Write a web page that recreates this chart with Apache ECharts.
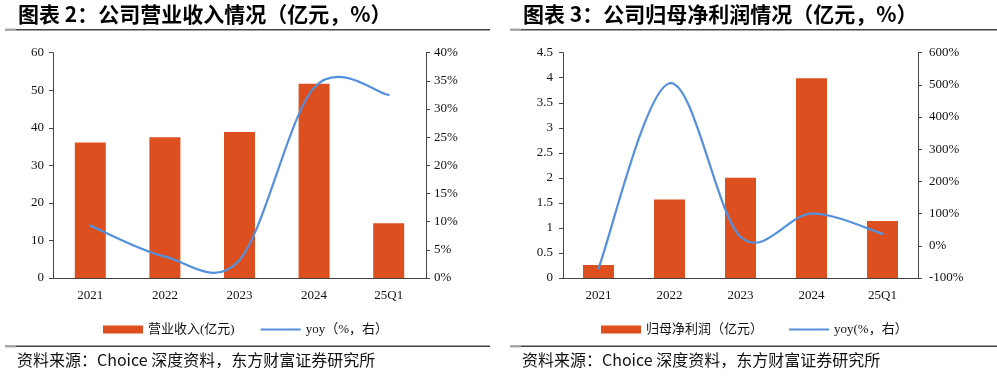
<!DOCTYPE html>
<html>
<head>
<meta charset="utf-8">
<script src="https://cdn.jsdelivr.net/npm/echarts@6/dist/echarts.min.js"></script>
<style>html,body{margin:0;padding:0;background:#fff;}#c{width:997px;height:379px;}</style>
</head>
<body>
<div id="c"></div>
<script>
const categories = ['2021', '2022', '2023', '2024', '25Q1'];
const revenue = [36.1, 37.5, 38.9, 51.7, 14.6];
const revenueYoy = [9.3, 3.8, 3.2, 33.8, 32.5];
const profit = [0.26, 1.57, 2.0, 3.99, 1.14];
const profitYoy = [-70, 505, 28, 100, 37];
const leftTitle = '图表 2：公司营业收入情况（亿元，%）';
const rightTitle = '图表 3：公司归母净利润情况（亿元，%）';
const sourceText = '资料来源：Choice 深度资料，东方财富证券研究所';
const revName = '营业收入(亿元)';
const revYoyName = 'yoy（%，右）';
const profName = '归母净利润（亿元）';
const profYoyName = 'yoy(%，右）';

const BAR = '#DD4F1F';
const LINE = '#5490DB';
const serif = '"Liberation Serif", "Noto Sans CJK SC", serif';
const cjk = '"Noto Sans CJK SC", sans-serif';

const chart = echarts.init(document.getElementById('c'));

function xAxis(gi) {
  return {
    type: 'category', gridIndex: gi, data: categories,
    axisLine: { lineStyle: { color: '#444', width: 1 } },
    axisTick: { length: 5, lineStyle: { color: '#444' } },
    axisLabel: { color: '#111', fontFamily: serif, fontSize: 13, margin: 11 }
  };
}
function yAxis(gi, pos, min, max, interval, fmt, margin) {
  return {
    type: 'value', gridIndex: gi, position: pos, min: min, max: max, interval: interval,
    splitLine: { show: false },
    axisLine: { show: true, lineStyle: { color: '#444', width: 1 } },
    axisTick: { show: true, length: 4, lineStyle: { color: '#444' } },
    axisLabel: { color: '#111', fontFamily: serif, fontSize: 13, margin: margin, formatter: fmt }
  };
}

// Excel-style smoothed line (cubic Bezier, control points at 1/6 of neighbour span),
// positioned through the chart's own axes via api.coord.
function smoothLine(values) {
  return function (params, api) {
    if (params.dataIndex !== 0) return null;
    const n = values.length;
    const p = values.map(function (v, i) { return api.coord([i, v]); });
    const children = [];
    for (let i = 0; i < n - 1; i++) {
      const p0 = p[Math.max(i - 1, 0)], p1 = p[i], p2 = p[i + 1], p3 = p[Math.min(i + 2, n - 1)];
      children.push({
        type: 'bezierCurve',
        shape: {
          x1: p1[0], y1: p1[1], x2: p2[0], y2: p2[1],
          cpx1: p1[0] + (p2[0] - p0[0]) / 6, cpy1: p1[1] + (p2[1] - p0[1]) / 6,
          cpx2: p2[0] - (p3[0] - p1[0]) / 6, cpy2: p2[1] - (p3[1] - p1[1]) / 6
        },
        style: { stroke: LINE, lineWidth: 2.2, fill: null, lineCap: 'round' }
      });
    }
    return { type: 'group', children: children };
  };
}

const legendText = { color: '#111', fontFamily: serif, fontSize: 13 };

chart.setOption({
  animation: false,
  title: [
    { text: leftTitle, left: 18, top: 4, padding: 0, textStyle: { fontFamily: cjk, fontSize: 21, fontWeight: 'bold', color: '#000' } },
    { text: rightTitle, left: 523, top: 4, padding: 0, textStyle: { fontFamily: cjk, fontSize: 21, fontWeight: 'bold', color: '#000' } },
    { text: sourceText, left: 17, top: 352, padding: 0, textStyle: { fontFamily: cjk, fontSize: 16, fontWeight: 'normal', color: '#111' } },
    { text: sourceText, left: 522, top: 352, padding: 0, textStyle: { fontFamily: cjk, fontSize: 16, fontWeight: 'normal', color: '#111' } }
  ],
  graphic: [
    { type: 'rect', shape: { x: 5, y: 29, width: 485, height: 1.5 }, style: { fill: '#444' } },
    { type: 'rect', shape: { x: 5, y: 28.5, width: 11, height: 2.5 }, style: { fill: '#aaa' } },
    { type: 'rect', shape: { x: 510, y: 29, width: 487, height: 1.5 }, style: { fill: '#444' } },
    { type: 'rect', shape: { x: 510, y: 28.5, width: 11, height: 2.5 }, style: { fill: '#aaa' } },
    { type: 'rect', shape: { x: 5, y: 345.5, width: 485, height: 1.5 }, style: { fill: '#444' } },
    { type: 'rect', shape: { x: 5, y: 345, width: 11, height: 2.5 }, style: { fill: '#aaa' } },
    { type: 'rect', shape: { x: 510, y: 345.5, width: 487, height: 1.5 }, style: { fill: '#444' } },
    { type: 'rect', shape: { x: 510, y: 345, width: 11, height: 2.5 }, style: { fill: '#aaa' } }
  ],
  legend: [
    { left: 103, top: 323, itemWidth: 40, itemHeight: 8, itemGap: 25, padding: 0, textStyle: legendText,
      data: [{ name: revName, icon: 'rect' }, { name: revYoyName, itemStyle: { opacity: 0 } }] },
    { left: 601, top: 323, itemWidth: 40, itemHeight: 8, itemGap: 25, padding: 0, textStyle: legendText,
      data: [{ name: profName, icon: 'rect' }, { name: profYoyName, itemStyle: { opacity: 0 } }] }
  ],
  grid: [
    { left: 53, top: 52.7, width: 373, height: 225.3 },
    { left: 563, top: 52.7, width: 355, height: 225.3 }
  ],
  xAxis: [xAxis(0), xAxis(1)],
  yAxis: [
    yAxis(0, 'left', 0, 60, 10, '{value}', 9),
    yAxis(0, 'right', 0, 40, 5, '{value}%', 8),
    yAxis(1, 'left', 0, 4.5, 0.5, '{value}', 10),
    yAxis(1, 'right', -100, 600, 100, '{value}%', 11)
  ],
  series: [
    { name: revName, type: 'bar', xAxisIndex: 0, yAxisIndex: 0, data: revenue, barWidth: 31, z: 2, itemStyle: { color: BAR } },
    { name: revYoyName, type: 'line', xAxisIndex: 0, yAxisIndex: 1, data: [], symbol: 'none',
      lineStyle: { color: LINE, width: 2.5 }, itemStyle: { color: LINE } },
    { name: revYoyName, type: 'custom', xAxisIndex: 0, yAxisIndex: 1, z: 10, renderItem: smoothLine(revenueYoy),
      data: revenueYoy.map(function (v, i) { return [i, v]; }), encode: { x: 0, y: 1 }, itemStyle: { color: LINE } },
    { name: profName, type: 'bar', xAxisIndex: 1, yAxisIndex: 2, data: profit, barWidth: 31, z: 2, itemStyle: { color: BAR } },
    { name: profYoyName, type: 'line', xAxisIndex: 1, yAxisIndex: 3, data: [], symbol: 'none',
      lineStyle: { color: LINE, width: 2.5 }, itemStyle: { color: LINE } },
    { name: profYoyName, type: 'custom', xAxisIndex: 1, yAxisIndex: 3, z: 10, renderItem: smoothLine(profitYoy),
      data: profitYoy.map(function (v, i) { return [i, v]; }), encode: { x: 0, y: 1 }, itemStyle: { color: LINE } }
  ]
});
</script>
</body>
</html>
